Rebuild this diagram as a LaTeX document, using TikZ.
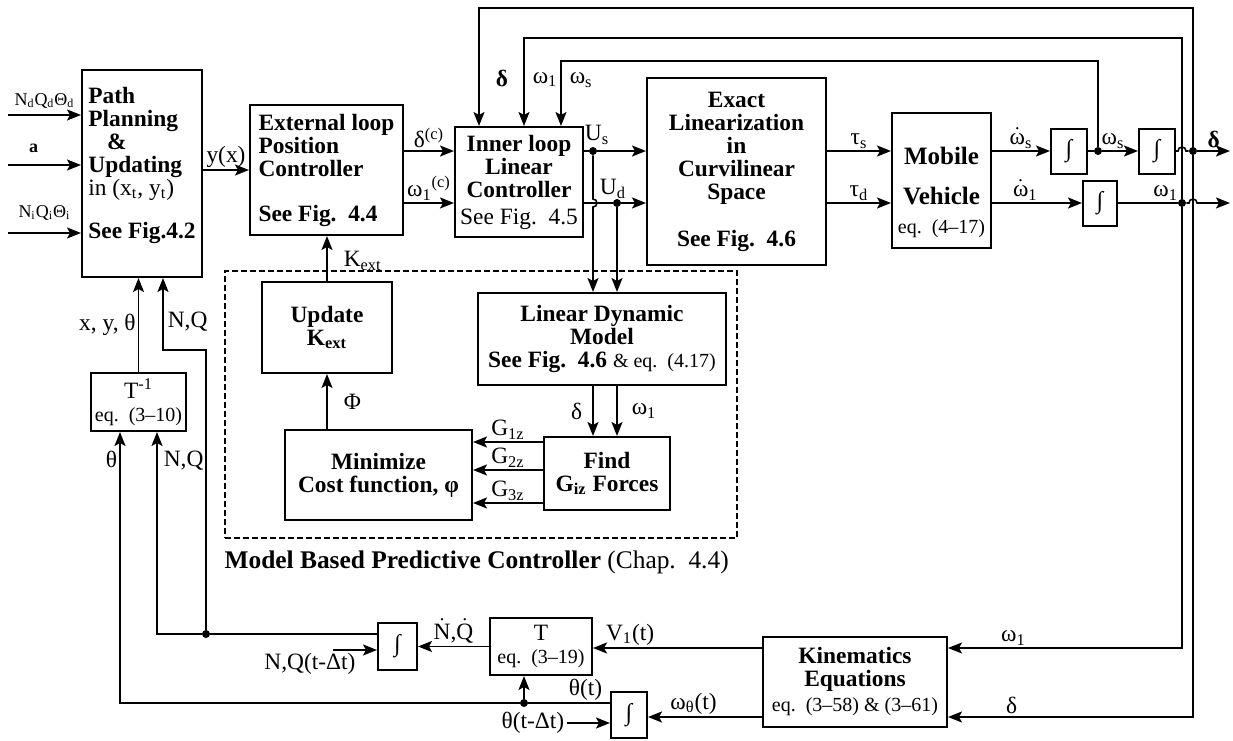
\documentclass[tikz,border=0pt]{standalone}
\usepackage{amsmath}
\usepackage{fontspec}
\setmainfont{Liberation Serif}
\usetikzlibrary{arrows.meta, positioning, calc}

\newcommand{\eqf}{\mdseries\fontsize{10}{11}\selectfont}

\begin{document}
\begin{tikzpicture}[
    x=0.5pt, y=-0.5pt,
    blk/.style={rectangle, draw, line width=1pt, inner sep=2pt, align=center, font=\bfseries\fontsize{11.7}{11.5}\selectfont},
    intg/.style={rectangle, draw, line width=1pt, minimum width=18pt, minimum height=22.5pt, inner sep=0pt, font=\fontsize{12}{12}\selectfont},
    sig/.style={line width=0.8pt, -{Stealth[length=7pt, width=5.5pt, inset=1.5pt]}},
    wire/.style={line width=0.8pt},
    lbl/.style={inner sep=1pt, font=\fontsize{11.7}{12}\selectfont},
    inlbl/.style={inner sep=1pt, font=\fontsize{9}{9}\selectfont},
    jdot/.style={circle, fill, inner sep=0pt, minimum size=4pt}
]
    \useasboundingbox (0,0) rectangle (1233,740);

    % Forward path blocks
    \node[blk, align=left, minimum width=60pt, minimum height=103.5pt] (path) at (142,173.5)
        {Path\\Planning\\\hspace*{0.8em}\&\\Updating\\{\mdseries in (x\textsubscript{t}, y\textsubscript{t})}\\[10pt]See Fig.4.2\rule[-11pt]{0pt}{0pt}};
    \node[blk, align=left, minimum width=76.5pt, minimum height=65pt] (ext) at (326.5,170)
        {External loop\\Position\\Controller\\[11pt]See Fig.~~4.4};
    \node[blk, minimum width=64pt, minimum height=55pt] (inner) at (519,182)
        {Inner loop\\Linear\\Controller\\[2pt]{\mdseries See Fig.~~4.5}};
    \node[blk, minimum width=89.5pt, minimum height=93.5pt] (exact) at (736.5,171.5)
        {Exact\\Linearization\\in\\Curvilinear\\Space\\[12pt]See Fig.~~4.6};
    \node[blk, minimum width=49.5pt, minimum height=67.5pt, font=\bfseries\fontsize{12.5}{11.5}\selectfont] (mobile) at (941.5,180.5)
        {\rule{0pt}{21pt}Mobile\\[8.5pt]Vehicle\\[3pt]{\eqf eq.~~(4--17)}};
    \node[intg] (int1) at (1069,151) {∫};
    \node[intg] (int2) at (1157,151) {∫};
    \node[intg, minimum width=17pt] (int3) at (1100,203) {∫};

    % Model based predictive controller
    \node[draw, dash pattern=on 3pt off 1.5pt, line width=0.8pt, minimum width=256pt, minimum height=133.5pt, inner sep=0pt] (mbpc) at (481,404.5) {};
    \node[anchor=north west, inner sep=0pt, font=\fontsize{12.7}{13}\selectfont] (mbpcl) at ([yshift=-6pt]mbpc.south west)
        {\textbf{Model Based Predictive Controller} (Chap.~~4.4)};
    \node[blk, minimum width=65pt, minimum height=45.5pt] (update) at (327,327.5) {Update\\K\textsubscript{ext}};
    \node[blk, minimum width=93.5pt, minimum height=45pt] (minim) at (378.5,475) {Minimize\\Cost function, φ};
    \node[blk, minimum width=63pt, minimum height=36.5pt] (find) at (607,473.5) {Find\\G\textsubscript{iz} Forces};
    \node[blk, minimum width=124pt, minimum height=46pt] (ldm) at (602,339)
        {Linear Dynamic\\Model\\See Fig.~~4.6 {\eqf\&~eq.~~(4.17)}};

    % Kinematic feedback blocks
    \node[blk, font=\fontsize{11.7}{11.5}\selectfont, minimum width=47.5pt, minimum height=29pt] (tinv) at (138.5,402)
        {T\textsuperscript{-1}\\{\eqf eq.~~(3--10)}};
    \node[blk, font=\fontsize{11.7}{11.5}\selectfont, minimum width=51pt, minimum height=28.5pt] (tbox) at (541,646.5)
        {T\\{\eqf eq.~~(3--19)}};
    \node[intg, minimum width=19.5pt, minimum height=23.5pt] (int4) at (397.5,646.5) {∫};
    \node[intg, minimum height=23pt] (int5) at (629,715) {∫};
    \node[blk, minimum width=92pt, minimum height=45pt] (kin) at (855,682)
        {Kinematics\\Equations\\[1pt]{\eqf eq.~~(3--58) \& (3--61)}};

    % Signal levels and junctions
    \coordinate (in1) at (8,115);
    \coordinate (in2) at (8,165);
    \coordinate (in3) at (8,233);
    \coordinate (ya) at (0,151);
    \coordinate (yb) at (0,203);
    \node[jdot] (jus) at (593,151) {};
    \node[jdot] (jud) at (617,203) {};
    \node[jdot] (jws) at (1098,151) {};
    \node[jdot] (jdl) at (1193,151) {};
    \node[jdot] (jw1) at (1182,203) {};
    \coordinate (outd) at (1230,151);
    \coordinate (outw) at (1230,203);
    \coordinate (fbd) at (479,8);
    \coordinate (fbw) at (524,38);
    \coordinate (fbs) at (561,61);
    \coordinate (yk1) at (0,648);
    \coordinate (yk2) at (0,717);
    \coordinate (yth) at (0,703);
    \node[jdot] (jth) at (524,703) {};
    \coordinate (xth) at (120,0);
    \coordinate (thin) at (567,723);
    \coordinate (nqin) at (333,650);
    \coordinate (ynq) at (0,634);
    \node[jdot] (jnq) at (206,634) {};
    \coordinate (xnq) at (157,0);
    \coordinate (bend) at (206,350);
    \coordinate (xnp) at (163,0);
    \coordinate (yg1) at (0,442);
    \coordinate (yg2) at (0,470);
    \coordinate (yg3) at (0,503);

    % Inputs
    \draw[sig] (in1) -- node[inlbl, above=2pt] {N\textsubscript{d}Q\textsubscript{d}Θ\textsubscript{d}} (path.west |- in1);
    \draw[sig] (in2) -- node[inlbl, above=5pt, pos=0.35] {\textbf{a}} (path.west |- in2);
    \draw[sig] (in3) -- node[inlbl, above=5pt] {N\textsubscript{i}Q\textsubscript{i}Θ\textsubscript{i}} (path.west |- in3);

    % Forward connections
    \draw[sig] (path.east |- ext.west) -- node[lbl, above] {y(x)} (ext.west);
    \draw[sig] (ext.east |- ya) -- node[lbl, above] {δ\textsuperscript{(c)}} (inner.west |- ya);
    \draw[sig] (ext.east |- yb) -- node[lbl, above] {ω\textsubscript{1}\textsuperscript{(c)}} (inner.west |- yb);
    \draw[wire] (inner.east |- ya) -- (jus);
    \draw[sig] (jus) node[lbl, above=2pt, xshift=2pt] {U\textsubscript{s}} -- (exact.west |- ya);
    \draw[wire] (inner.east |- yb) -- (jud) node[lbl, above=1pt, xshift=-2pt] {U\textsubscript{d}};
    \draw[sig] (jud) -- (exact.west |- yb);
    \draw[sig] (jus) -- ($(jus |- jud)+(0,-4)$) arc[start angle=-90, end angle=90, radius=4] -- (ldm.north -| jus);
    \draw[sig] (jud) -- (ldm.north -| jud);
    \draw[sig] (exact.east |- ya) -- node[lbl, above] {τ\textsubscript{s}} (mobile.west |- ya);
    \draw[sig] (exact.east |- yb) -- node[lbl, above] {τ\textsubscript{d}} (mobile.west |- yb);

    % Integrator chain
    \draw[sig] (mobile.east |- ya) -- node[lbl, above] {$\dot{\text{ω}}$\textsubscript{s}} (int1.west);
    \draw[wire] (int1.east) -- (jws);
    \draw[sig] (jws) -- node[lbl, above, pos=0.3] {ω\textsubscript{s}} (int2.west);
    \draw[wire] (int2.east) -- ($(jw1 |- jdl)+(-4,0)$) arc[start angle=180, end angle=360, radius=4] -- (jdl);
    \draw[sig] (jdl) -- node[lbl, above] {\textbf{δ}} (outd);
    \draw[sig] (mobile.east |- yb) -- node[lbl, above, pos=0.37] {$\dot{\text{ω}}$\textsubscript{1}} (int3.west);
    \draw[wire] (int3.east) -- node[lbl, above, pos=0.8] {ω\textsubscript{1}} (jw1);
    \draw[sig] (jw1) -- ($(jdl |- jw1)+(-4,0)$) arc[start angle=180, end angle=360, radius=4] -- (outw);

    % Feedback to inner loop
    \draw[sig] (jdl) |- (fbd) -- node[lbl, right=7pt, pos=0.6] {\textbf{δ}} (inner.north -| fbd);
    \draw[sig] (jw1) |- (fbw) -- node[lbl, right=3pt, pos=0.47] {ω\textsubscript{1}} (inner.north -| fbw);
    \draw[sig] (jws) |- (fbs) -- node[lbl, right=3pt, pos=0.29] {ω\textsubscript{s}} (inner.north -| fbs);

    % Predictive controller connections
    \draw[sig] (update.north) -- node[lbl, right=7pt, pos=0.45] {K\textsubscript{ext}} (ext.south -| update.north);
    \draw[sig] (minim.north -| update.south) -- node[lbl, right=7pt] {Φ} (update.south);
    \draw[sig] (ldm.south -| jus) -- node[lbl, left=4pt] {δ} (find.north -| jus);
    \draw[sig] (ldm.south -| jud) -- node[lbl, right=6pt] {ω\textsubscript{1}} (find.north -| jud);
    \draw[sig] (find.west |- yg1) -- node[lbl, above] {G\textsubscript{1z}} (minim.east |- yg1);
    \draw[sig] (find.west |- yg2) -- node[lbl, above] {G\textsubscript{2z}} (minim.east |- yg2);
    \draw[sig] (find.west |- yg3) -- node[lbl, above] {G\textsubscript{3z}} (minim.east |- yg3);

    % Kinematics feedback
    \draw[sig] (jdl) |- node[lbl, above, pos=0.87] {δ} (kin.east |- yk2);
    \draw[sig] (jw1) |- node[lbl, above, pos=0.86] {ω\textsubscript{1}} (kin.east |- yk1);
    \draw[sig] (kin.west |- yk1) -- node[lbl, above, pos=0.78] {V\textsubscript{1}(t)} (tbox.east |- yk1);
    \draw[sig] (kin.west |- yk2) -- node[lbl, above, pos=0.6] {ω\textsubscript{θ}(t)} (int5.east |- yk2);
    \draw[wire] (int5.west |- yth) -- node[lbl, above, pos=0.3] {θ(t)} (jth);
    \draw[sig] (jth) -- (tbox.south -| jth);
    \draw[sig] (jth) -| node[lbl, left, pos=0.95] {θ} (tinv.south -| xth);
    \draw[sig] (thin) node[lbl, left] {θ(t-Δt)} -- (int5.west |- thin);
    \draw[sig] (tbox.west) -- node[lbl, above] {$\dot{\text{N}}$,$\dot{\text{Q}}$} (int4.east);
    \node[lbl] (lnq) at (310,664) {N,Q(t-Δt)};
    \draw[sig] (nqin) -- (int4.west |- nqin);
    \draw[wire] (int4.west |- ynq) -- (jnq);
    \draw[sig] (jnq) -| node[lbl, right=2pt, pos=0.93] {N,Q} (tinv.south -| xnq);
    \draw[sig] (jnq) -- (bend) -| node[lbl, right=1pt, pos=0.7] {N,Q} (path.south -| xnp);
    \draw[sig] (tinv.north) -- node[lbl, left] {x, y, θ} (path.south -| tinv.north);
\end{tikzpicture}
\end{document}
